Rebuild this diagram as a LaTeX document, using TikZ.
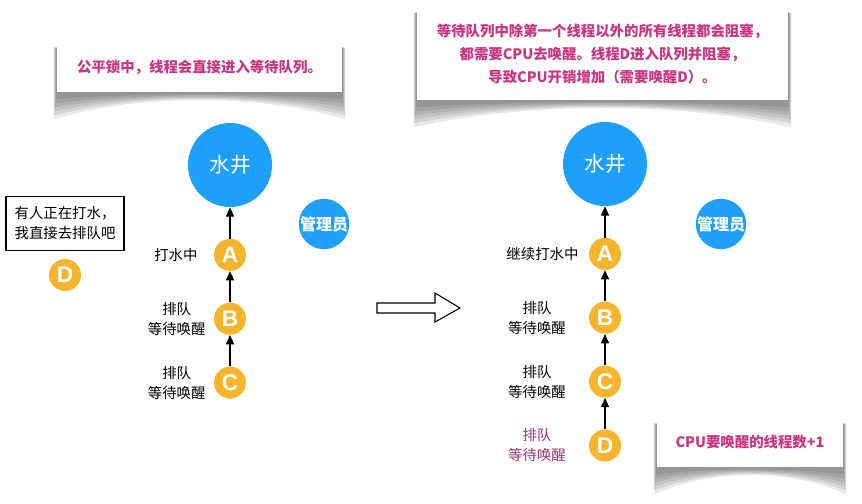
\documentclass[tikz,border=0pt]{standalone}
\usepackage{fontspec}
\setmainfont{Noto Sans CJK SC}
\newfontfamily\letterfont{Liberation Sans}
\usetikzlibrary{positioning, arrows.meta, calc, backgrounds}

\definecolor{wellblue}{RGB}{30,160,250}
\definecolor{threadorange}{RGB}{246,181,44}
\definecolor{notepink}{RGB}{204,52,128}
\definecolor{waitpurple}{RGB}{158,50,110}

% curled paper shadow under a note node
\newcommand{\curlshadow}[1]{%
  \begin{scope}[on background layer]
    \foreach \d/\s in {27/3, 23/2.5, 19/2, 15/1.5, 11/1, 7/0.5}{
      \fill[black, opacity=0.085]
        ($(#1.north west)+(-\s,6)$) -- ($(#1.south west)+(-\s,\d)$)
        .. controls ($(#1.south west)!0.3!(#1.south east)+(0,\d*0.05)$)
        and ($(#1.south west)!0.7!(#1.south east)+(0,\d*0.05)$)
        .. ($(#1.south east)+(\s,\d)$) -- ($(#1.north east)+(\s,6)$) -- cycle;
    }
  \end{scope}}

\begin{document}
\begin{tikzpicture}[
    x=0.75pt, y=-0.75pt,
    node distance=23.5pt,
    well/.style={circle, fill=wellblue, text=white, inner sep=0pt, minimum size=63pt, font=\fontsize{15.5}{18}\selectfont},
    keeper/.style={circle, fill=wellblue, text=white, inner sep=0pt, minimum size=37.5pt, font=\fontsize{12}{14}\selectfont\bfseries},
    thread/.style={circle, fill=threadorange, text=white, inner sep=0pt, minimum size=24pt, font=\letterfont\fontsize{17}{17}\selectfont\bfseries},
    state/.style={inner sep=0pt, align=center, font=\fontsize{10.8}{15}\selectfont},
    note/.style={fill=white, text=notepink, inner sep=0pt, align=center, font=\fontsize{10.8}{17.25}\selectfont\bfseries},
    flow/.style={-{Triangle[length=7pt, width=6pt]}, line width=1pt}
]
    \useasboundingbox (0,0) rectangle (862,503);

    % 1. Left scene: fair lock
    \node[note, minimum width=213.75pt, minimum height=37.5pt] (note1) at (199.5,67) {公平锁中，线程会直接进入等待队列。};
    \curlshadow{note1}

    \node[well] (well1) at (230,165) {水井};
    \node[keeper] (mgr1) at (324,224) {管理员};
    \node[thread] (a1) [below=of well1] {A};
    \node[thread] (b1) [below=of a1] {B};
    \node[thread] (c1) [below=of b1] {C};

    \node[state] (la1) [left=12pt of a1] {打水中};
    \node[state] (lb1) [left=6pt of b1] {排队\\等待唤醒};
    \node[state] (lc1) [left=6pt of c1] {排队\\等待唤醒};

    \draw[flow] (a1) -- (well1);
    \draw[flow] (b1) -- (a1);
    \draw[flow] (c1) -- (b1);

    \node[draw, line width=0.8pt, inner xsep=5pt, inner ysep=4pt, align=left, minimum width=88.5pt, minimum height=40pt,
          font=\fontsize{10.8}{15}\selectfont] (think) at (65,223.5) {有人正在打水，\\我直接去排队吧};
    \node[thread] (d1) at (65,275) {D};

    % 2. Hollow arrow between the scenes
    \draw[line width=0.8pt, fill=white] (377,303) -- (435,303) -- (435,293) -- (460,308)
        -- (435,322) -- (435,313) -- (377,313) -- cycle;

    % 3. Right scene: D joins the queue
    \node[note, minimum width=278.25pt, minimum height=69.75pt] (note2) at (602.5,53.5)
        {等待队列中除第一个线程以外的所有线程都会阻塞，\\都需要CPU去唤醒。线程D进入队列并阻塞，\\导致CPU开销增加（需要唤醒D）。};
    \curlshadow{note2}

    \node[well] (well2) at (605,164) {水井};
    \node[keeper] (mgr2) at (721,224) {管理员};
    \node[thread] (a2) [below=of well2] {A};
    \node[thread] (b2) [below=of a2] {B};
    \node[thread] (c2) [below=of b2] {C};
    \node[thread] (d2) [below=of c2] {D};

    \node[state] (la2) [left=7.5pt of a2] {继续打水中};
    \node[state] (lb2) [left=17pt of b2] {排队\\等待唤醒};
    \node[state] (lc2) [left=17pt of c2] {排队\\等待唤醒};
    \node[state, text=waitpurple] (ld2) [left=17pt of d2] {排队\\等待唤醒};

    \draw[flow] (a2) -- (well2);
    \draw[flow] (b2) -- (a2);
    \draw[flow] (c2) -- (b2);
    \draw[flow] (d2) -- (c2);

    \node[note, minimum width=139.5pt, minimum height=36.75pt] (note3) at (750,442.5) {CPU要唤醒的线程数+1};
    \curlshadow{note3}

\end{tikzpicture}
\end{document}
